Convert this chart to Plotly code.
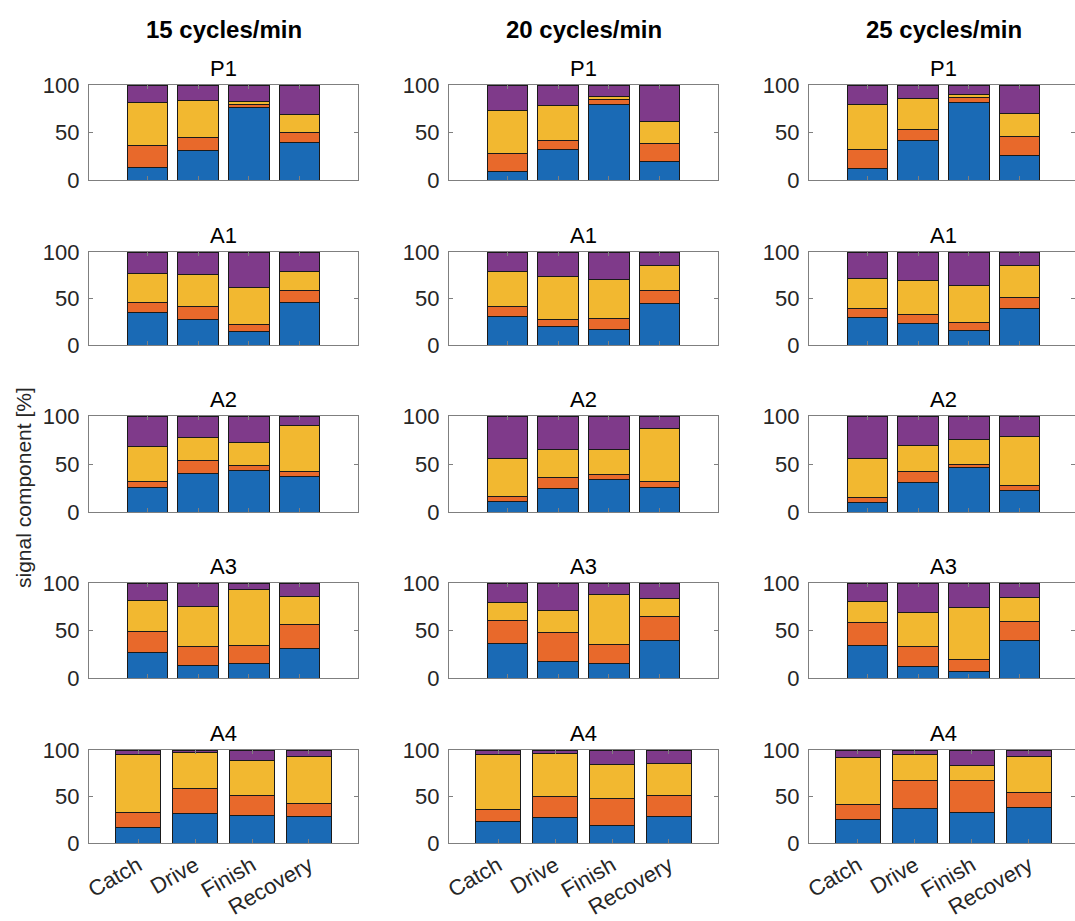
import plotly.graph_objects as go

phases = ["Catch", "Drive", "Finish", "Recovery"]
rates = ["15 cycles/min", "20 cycles/min", "25 cycles/min"]
muscles = ["P1", "A1", "A2", "A3", "A4"]
component_names = ["component 1", "component 2", "component 3", "component 4"]
colors = ["#1A6AB5", "#E8692B", "#F2B830", "#7F3A8A"]

# each array: one list per component (bottom -> top), values per phase
P1_15 = [[13, 31, 76, 40], [23, 14, 3, 10], [46, 39, 4, 19], [18, 16, 17, 31]]
P1_20 = [[9, 32, 79, 20], [19, 10, 6, 18], [45, 36, 3, 24], [27, 22, 12, 38]]
P1_25 = [[12, 42, 82, 26], [20, 11, 5, 20], [47, 33, 3, 24], [21, 14, 10, 30]]

A1_15 = [[35, 27, 14, 46], [11, 14, 8, 13], [31, 35, 40, 20], [23, 24, 38, 21]]
A1_20 = [[31, 20, 17, 45], [10, 7, 11, 14], [38, 47, 42, 27], [21, 26, 30, 14]]
A1_25 = [[30, 23, 16, 39], [9, 10, 8, 12], [33, 36, 40, 34], [28, 31, 36, 15]]

A2_15 = [[26, 40, 43, 37], [6, 14, 5, 5], [36, 24, 24, 48], [32, 22, 28, 10]]
A2_20 = [[11, 24, 34, 26], [5, 12, 5, 6], [40, 29, 26, 55], [44, 35, 35, 13]]
A2_25 = [[10, 31, 46, 22], [5, 11, 4, 6], [41, 27, 26, 51], [44, 31, 24, 21]]

A3_15 = [[27, 13, 15, 31], [22, 20, 19, 25], [33, 42, 59, 30], [18, 25, 7, 14]]
A3_20 = [[36, 17, 15, 39], [25, 31, 20, 26], [18, 23, 53, 19], [21, 29, 12, 16]]
A3_25 = [[34, 12, 7, 39], [24, 21, 12, 20], [23, 36, 55, 26], [19, 31, 26, 15]]

A4_15 = [[17, 32, 30, 28], [16, 27, 21, 15], [62, 38, 38, 50], [5, 3, 11, 7]]
A4_20 = [[23, 27, 19, 29], [13, 23, 29, 22], [59, 46, 36, 35], [5, 4, 16, 14]]
A4_25 = [[25, 37, 33, 38], [16, 30, 34, 16], [51, 28, 16, 39], [8, 5, 17, 7]]

panels = [
    [P1_15, P1_20, P1_25],
    [A1_15, A1_20, A1_25],
    [A2_15, A2_20, A2_25],
    [A3_15, A3_20, A3_25],
    [A4_15, A4_20, A4_25],
]

W, H = 1075, 921
col_px = [(89, 358), (449, 718), (809, 1075)]
row_px = [(85, 180), (252, 345), (416, 512), (583, 678), (750, 843)]
# x ranges (upper rows vs bottom row)
xr_upper = [(-0.15, 5.15), (-0.15, 5.15), (-0.15, 5.09)]
xr_bottom = [(0.14, 4.86), (0.14, 4.86), (0.14, 4.81)]

FONT = "Liberation Sans, Arial, sans-serif"
TXT = "#262626"
AXC = "#7f7f7f"

fig = go.Figure()
layout = dict(
    width=W, height=H, margin=dict(l=0, r=0, t=0, b=0, autoexpand=False),
    paper_bgcolor="white", plot_bgcolor="white",
    barmode="stack", showlegend=False,
    font=dict(family=FONT, color=TXT, size=21),
)
annotations = []
x_pos = [1, 2, 3, 4]

for r in range(5):
    for c in range(3):
        idx = r * 3 + c + 1
        xa = "x" if idx == 1 else f"x{idx}"
        ya = "y" if idx == 1 else f"y{idx}"
        data = panels[r][c]
        for k in range(4):
            fig.add_trace(go.Bar(
                x=x_pos, y=data[k], width=0.8, name=component_names[k],
                marker=dict(color=colors[k], line=dict(color="#1a1a1a", width=1)),
                xaxis=xa, yaxis=ya,
            ))
        x0, x1 = col_px[c]
        y0, y1 = row_px[r]
        xr = xr_bottom[c] if r == 4 else xr_upper[c]
        layout["xaxis" if idx == 1 else f"xaxis{idx}"] = dict(
            domain=[x0 / W, x1 / W], anchor=ya, range=list(xr),
            tickmode="array", tickvals=x_pos,
            ticktext=phases if r == 4 else ["", "", "", ""],
            showticklabels=(r == 4), tickangle=-30, automargin=False,
            ticks="inside", ticklen=4, tickcolor=AXC,
            showline=True, linecolor=AXC, linewidth=1.3, mirror="ticks",
            showgrid=False, zeroline=False, fixedrange=True,
            tickfont=dict(size=22, color=TXT, family=FONT),
        )
        layout["yaxis" if idx == 1 else f"yaxis{idx}"] = dict(
            domain=[1 - y1 / H, 1 - y0 / H], anchor=xa, range=[0, 100],
            tickmode="array", tickvals=[0, 50, 100], automargin=False,
            ticks="inside", ticklen=4, tickcolor=AXC,
            showline=True, linecolor=AXC, linewidth=1.3, mirror="ticks",
            showgrid=False, zeroline=False, fixedrange=True,
            ticklabelstandoff=4,
            tickfont=dict(size=22, color=TXT, family=FONT),
        )
        cx = (x0 + (x1 if c < 2 else 1078)) / 2
        annotations.append(dict(
            text=muscles[r], xref="paper", yref="paper",
            x=cx / W, y=1 - (y0 - 17) / H, xanchor="center", yanchor="middle",
            showarrow=False, font=dict(size=22, color="black", family=FONT),
        ))

for c in range(3):
    cx = (col_px[c][0] + (col_px[c][1] if c < 2 else 1078)) / 2
    annotations.append(dict(
        text=f"<b>{rates[c]}</b>", xref="paper", yref="paper",
        x=cx / W, y=1 - 29 / H, xanchor="center", yanchor="middle",
        showarrow=False, font=dict(size=24, color="black", family=FONT),
    ))

annotations.append(dict(
    text="signal component [%]", xref="paper", yref="paper",
    x=23 / W, y=1 - 488 / H, xanchor="center", yanchor="middle",
    textangle=-90, showarrow=False, font=dict(size=21, color=TXT, family=FONT),
))

layout["annotations"] = annotations
fig.update_layout(**layout)
fig.write_html(
    "out.html",
    config={"displayModeBar": False},
    post_script="document.body.style.margin='0';document.body.style.overflow='hidden';",
)
